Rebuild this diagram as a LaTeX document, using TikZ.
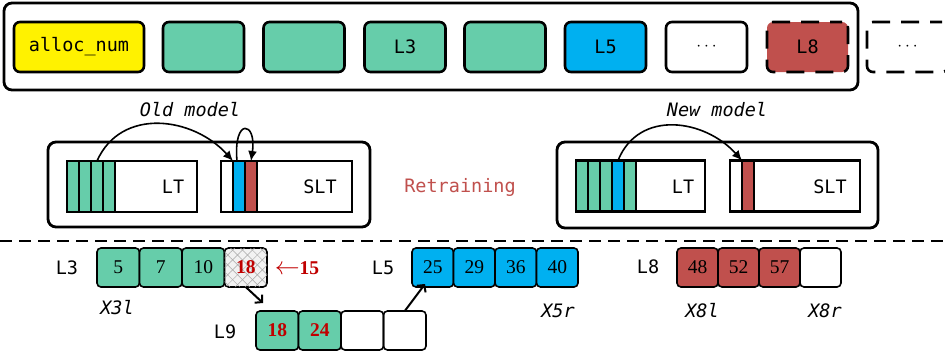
\documentclass[tikz,border=0pt]{standalone}
\usepackage{fontspec}
\setmainfont{Liberation Serif}
\setsansfont{DejaVu Sans}
\setmonofont{DejaVu Sans Mono}
\usetikzlibrary{arrows.meta,patterns.meta}
\definecolor{mint}{HTML}{66CDAA}
\definecolor{sky}{HTML}{00B0F0}
\definecolor{brick}{HTML}{C0504D}
\definecolor{numred}{HTML}{C00000}

\begin{document}
\begin{tikzpicture}[x=1pt,y=-1pt,
    frame/.style={draw,line width=2.8pt,rounded corners=8pt},
    slot/.style={draw,line width=2.6pt,rounded corners=6pt,minimum width=81pt,minimum height=50pt,
        font=\ttfamily\fontsize{18.5}{20}\selectfont},
    ghost/.style={dash pattern=on 18pt off 11pt,dash phase=6pt},
    tbl/.style={draw,line width=2.6pt,minimum width=130pt,minimum height=51pt,inner sep=0pt,outer sep=0pt},
    bar/.style={draw,line width=2.6pt,minimum width=12pt,minimum height=51pt,inner sep=0pt,outer sep=0pt,anchor=west},
    tag/.style={font=\ttfamily\fontsize{18.5}{20}\selectfont},
    bound/.style={font=\ttfamily\itshape\fontsize{18.5}{20}\selectfont},
    cell/.style={draw,line width=1.6pt,rounded corners=4pt,minimum width=42.5pt,minimum height=39pt,
        inner sep=0pt,outer sep=0pt,font=\fontsize{19.5}{20}\selectfont},
    hot/.style={text=numred,font=\bfseries\fontsize{19.5}{20}\selectfont},
    jump/.style={-{Latex[length=10pt,width=9pt]},line width=1.6pt},
    hop/.style={-{Straight Barb[length=5pt,width=11pt]},line width=2pt}]

\useasboundingbox (0,0) rectangle (945,354);

% allocation array
\draw[frame] (4,3) rectangle (858,90);
\node[slot,fill=yellow,minimum width=130pt] (alloc) at (79,47) {alloc\_num};
\node[slot,fill=mint] (s1) at (203.5,47) {};
\node[slot,fill=mint] (s2) at (304,47) {};
\node[slot,fill=mint] (s3) at (405,47) {L3};
\node[slot,fill=mint] (s4) at (505,47) {};
\node[slot,fill=sky] (s5) at (605.5,47) {L5};
\node[slot,fill=white] (s6) at (706.5,47) {\fontsize{16}{16}\selectfont$\cdots$};
\node[slot,fill=brick,ghost] (s7) at (807.5,47) {L8};
\node[slot,ghost] (s8) at (907.5,47) {\fontsize{16}{16}\selectfont$\cdots$};

% old model
\node[bound] (oldlbl) at (190,110) {Old model};
\draw[frame] (48,142) rectangle (370,227);
\node[tbl] (olt) at (132,186.5) {};
\node[bar,fill=mint] (og1) at (olt.west) {};
\node[bar,fill=mint] (og2) at (og1.east) {};
\node[bar,fill=mint] (og3) at (og2.east) {};
\node[bar,fill=mint] (og4) at (og3.east) {};
\node[tag] (oltlbl) at (173,187) {LT};
\node[tbl,minimum width=131pt] (oslt) at (286.5,186.5) {};
\node[bar] (ow) at (oslt.west) {};
\node[bar,fill=sky] (ob) at (ow.east) {};
\node[bar,fill=brick] (or) at (ob.east) {};
\node[tag] (osltlbl) at (320,187) {SLT};
\draw[jump] (og3.north) to[out=66,in=132,looseness=1.12] (ob.north west);
\draw[jump] ([xshift=-2pt]ob.north) .. controls +(-4,-44) and +(6,-40) .. (or.north);

\node[tag,text=brick] (retrain) at (460,187) {Retraining};

% new model
\node[bound] (newlbl) at (717,110) {New model};
\draw[frame] (557,142) rectangle (878,228);
\node[tbl,minimum width=129pt] (nlt) at (640.5,186) {};
\node[bar,fill=mint] (ng1) at (nlt.west) {};
\node[bar,fill=mint] (ng2) at (ng1.east) {};
\node[bar,fill=mint] (ng3) at (ng2.east) {};
\node[bar,fill=sky] (nb) at (ng3.east) {};
\node[bar,fill=mint] (ng4) at (nb.east) {};
\node[tag] (nltlbl) at (683,187) {LT};
\node[tbl] (nslt) at (795,186) {};
\node[bar] (nw) at (nslt.west) {};
\node[bar,fill=brick] (nr) at (nw.east) {};
\node[tag] (nsltlbl) at (830,187) {SLT};
\draw[jump] (nb.north) to[out=68,in=132,looseness=1.15] (nr.north west);

\draw[line width=2.4pt,dash pattern=on 12pt off 7pt] (0,241) -- (945,241);

% leaf L3
\node[tag] (l3) at (67,268) {L3};
\node[cell,fill=mint] (c1) at (118.25,267.5) {5};
\node[cell,fill=mint] (c2) at (160.75,267.5) {7};
\node[cell,fill=mint] (c3) at (203.25,267.5) {10};
\node[cell,fill=gray!10,hot,
    postaction={pattern={Lines[angle=45,distance=7pt,line width=0.5pt]},pattern color=gray!70},
    postaction={pattern={Lines[angle=-45,distance=7pt,line width=0.5pt]},pattern color=gray!70}]
    (c4) at (245.75,267.5) {18};
\node[hot] (ins) at (297,268) {{\fontsize{26}{26}\selectfont$\leftarrow$}15};
\node[bound] (x3l) at (117,308) {X3l};

% leaf L9
\node[tag] (l9) at (225,332) {L9};
\node[cell,fill=mint,hot] (d1) at (277.25,330.5) {18};
\node[cell,fill=mint,hot] (d2) at (319.75,330.5) {24};
\node[cell] (d3) at (362.25,330.5) {};
\node[cell] (d4) at (404.75,330.5) {};

% leaf L5
\node[tag] (l5) at (383,268) {L5};
\node[cell,fill=sky,minimum width=41.5pt] (e1) at (432.75,267.5) {25};
\node[cell,fill=sky,minimum width=41.5pt] (e2) at (474.25,267.5) {29};
\node[cell,fill=sky,minimum width=41.5pt] (e3) at (515.75,267.5) {36};
\node[cell,fill=sky,minimum width=41.5pt] (e4) at (557.25,267.5) {40};
\node[bound] (x5r) at (558,311) {X5r};

% leaf L8
\node[tag] (l8) at (648,267) {L8};
\node[cell,fill=brick,minimum width=41pt] (f1) at (697.5,267.5) {48};
\node[cell,fill=brick,minimum width=41pt] (f2) at (738.5,267.5) {52};
\node[cell,fill=brick,minimum width=41pt] (f3) at (779.5,267.5) {57};
\node[cell,minimum width=41pt] (f4) at (820.5,267.5) {};
\node[bound] (x8l) at (702,311) {X8l};
\node[bound] (x8r) at (825,311) {X8r};

\draw[hop] (c4.south) -- ([shift={(7,-8)}]d1.north west);
\draw[hop] (d4.north) -- ([shift={(13,-3)}]e1.south west);
\end{tikzpicture}
\end{document}
